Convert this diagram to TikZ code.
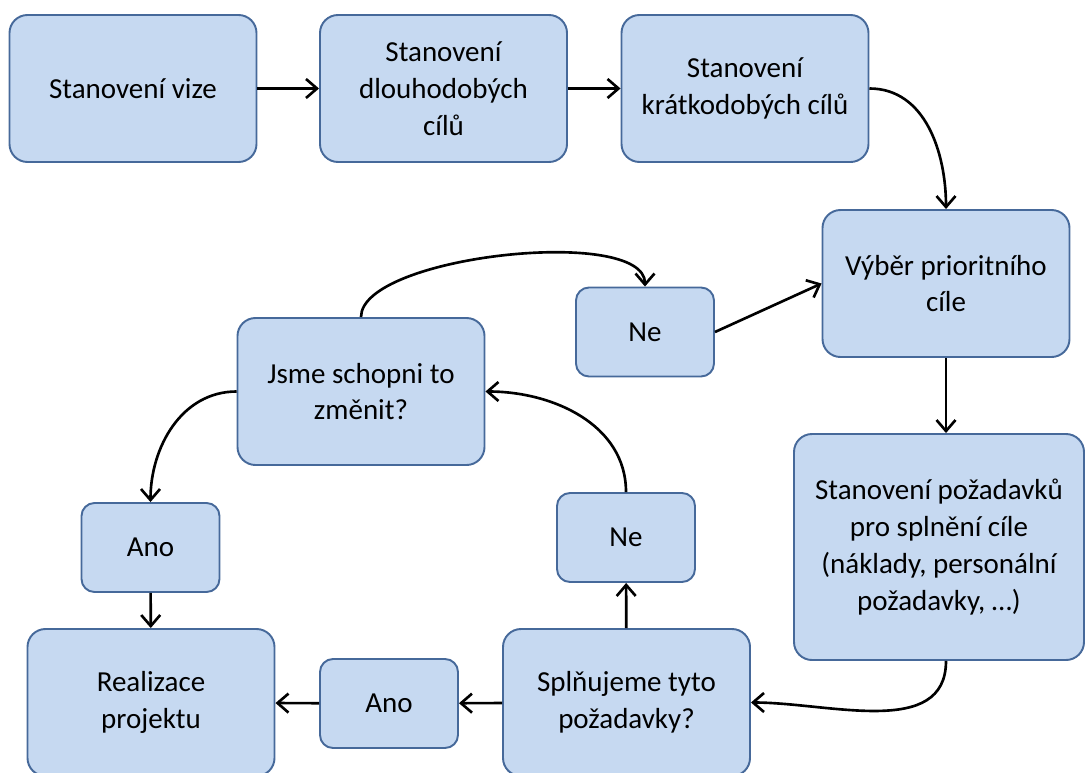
\documentclass[tikz,border=0pt]{standalone}
\usepackage{fontspec}
\setmainfont{Carlito}
\usepackage{tikz}
\usetikzlibrary{arrows.meta}
\definecolor{boxfill}{HTML}{C6D9F1}
\definecolor{boxline}{HTML}{46699A}
\tikzset{
  krok/.style={draw=boxline, fill=boxfill, line width=1.1pt, rounded corners=3.6mm,
    align=center, minimum width=49.4mm, minimum height=29.4mm, inner sep=0pt,
    font=\fontsize{16.5}{21}\selectfont},
  volba/.style={krok, rounded corners=2.6mm, minimum width=27.6mm, minimum height=17.8mm},
  sipka/.style={-{Straight Barb[length=2.2mm,width=3.8mm]}, line width=1.5pt},
}

\begin{document}
\begin{tikzpicture}[x=0.2mm,y=-0.2mm]
\useasboundingbox (0,0) rectangle (1085,773);
% Top row
\node[krok] (vize) at (133,88.5) {Stanovení vize};
\node[krok] (dlouho) at (443.5,88.5) {Stanovení\\dlouhodobých\\cílů};
\node[krok] (kratko) at (745,88.5) {Stanovení\\krátkodobých cílů};
% Right column
\node[krok] (vyber) at (946,283.5) {Výběr prioritního\\cíle};
\node[krok, minimum width=58mm, minimum height=45.2mm] (pozad) at (939,547)
  {Stanovení požadavků\\pro splnění cíle\\(náklady, personální\\požadavky, …)};
% Bottom row
\node[krok] (splnu) at (626.5,702.5) {Splňujeme tyto\\požadavky?};
\node[volba] (anodole) at (389,703.5) {Ano};
\node[krok] (realiz) at (151,702.5) {Realizace\\projektu};
% Decision loop
\node[volba] (nedole) at (626,537.5) {Ne};
\node[krok] (jsme) at (361,391.5) {Jsme schopni to\\změnit?};
\node[volba] (anovlevo) at (150.5,547.5) {Ano};
\node[volba] (nahore) at (645,332) {Ne};
% Arrows
\draw[sipka] (vize) -- (dlouho);
\draw[sipka] (dlouho) -- (kratko);
\draw[sipka] (kratko.east) to[out=0,in=90] (vyber.north);
\draw[sipka] (vyber.south) -- (vyber.south |- pozad.north);
\draw[sipka] (vyber.south |- pozad.south) to[out=-90,in=0] (splnu.east);
\draw[sipka] (splnu) -- (anodole);
\draw[sipka] (anodole) -- (realiz);
\draw[sipka] (splnu) -- (nedole);
\draw[sipka] (nedole.north) to[out=90,in=0] (jsme.east);
\draw[sipka] (jsme.west) to[out=180,in=90] (anovlevo.north);
\draw[sipka] (anovlevo) -- (realiz);
\draw[sipka] (jsme.north) to[out=90,in=90,looseness=0.55] (nahore.north);
\draw[sipka] (nahore.east) -- (vyber.west);
\end{tikzpicture}
\end{document}
